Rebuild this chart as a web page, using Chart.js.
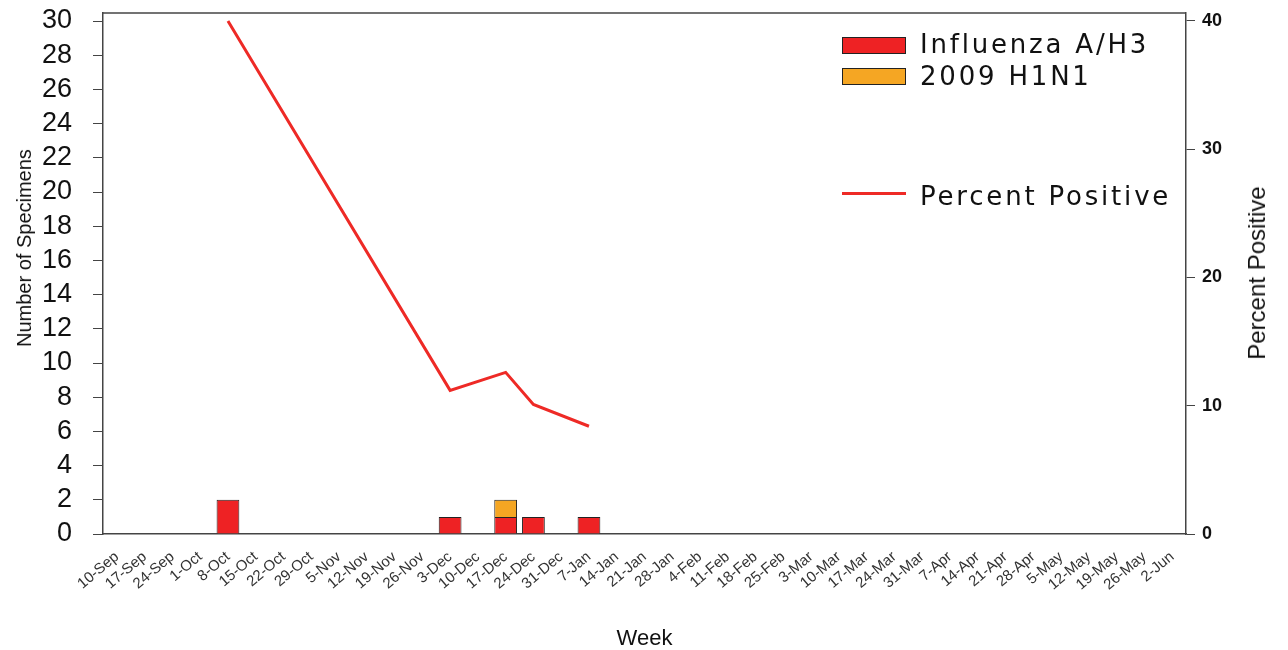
<!DOCTYPE html>
<html>
<head>
<meta charset="utf-8">
<script src="https://cdn.jsdelivr.net/npm/chart.js@4.4.1/dist/chart.umd.min.js"></script>
<style>
  html, body { margin: 0; padding: 0; background: #fff; }
  #wrap { position: relative; width: 1288px; height: 650px; overflow: hidden; }
  #c { position: absolute; left: 0; top: 0; }
  .lg-box { position: absolute; box-sizing: border-box; border: 1px solid #222; width: 64px; height: 17px; left: 842px; }
  .lg-line { position: absolute; left: 842px; width: 64px; height: 3px; }
  .lg-text { position: absolute; left: 920px; font-family: "DejaVu Sans", sans-serif; font-size: 26px; line-height: 26px; letter-spacing: 2.8px; color: #111; white-space: nowrap; }
  .vtitle { position: absolute; transform: translate(-50%, -50%) rotate(-90deg); font-family: "Liberation Sans", Arial, sans-serif; color: #111; white-space: nowrap; line-height: 1; }
  #ltitle { left: 24px; top: 248px; font-size: 20px; }
  #rtitle { left: 1257px; top: 273px; font-size: 24px; }
</style>
</head>
<body>
<div id="wrap">
  <canvas id="c" width="1288" height="650"></canvas>
  <div class="lg-box" id="box1" style="top:37px;"></div>
  <div class="lg-text" style="top:31px;">Influenza A/H3</div>
  <div class="lg-box" id="box2" style="top:68px;"></div>
  <div class="lg-text" style="top:63px;">2009 H1N1</div>
  <div class="lg-line" id="line1" style="top:192px;"></div>
  <div class="lg-text" style="top:183px;">Percent Positive</div>
  <div class="vtitle" id="ltitle">Number of Specimens</div>
  <div class="vtitle" id="rtitle">Percent Positive</div>
</div>
<script>
// ---- Data ----
const weeks = ['10-Sep','17-Sep','24-Sep','1-Oct','8-Oct','15-Oct','22-Oct','29-Oct','5-Nov','12-Nov','19-Nov','26-Nov',
  '3-Dec','10-Dec','17-Dec','24-Dec','31-Dec','7-Jan','14-Jan','21-Jan','28-Jan','4-Feb','11-Feb','18-Feb','25-Feb',
  '3-Mar','10-Mar','17-Mar','24-Mar','31-Mar','7-Apr','14-Apr','21-Apr','28-Apr','5-May','12-May','19-May','26-May','2-Jun'];
const h3Counts   = [0,0,0,0,2,0,0,0,0,0,0,0,1,0,1,1,0,1,0,0,0,0,0,0,0,0,0,0,0,0,0,0,0,0,0,0,0,0,0];
const h1n1Counts = [0,0,0,0,0,0,0,0,0,0,0,0,0,0,1,0,0,0,0,0,0,0,0,0,0,0,0,0,0,0,0,0,0,0,0,0,0,0,0];
const percentPositive = [null,null,null,null,40,null,null,null,null,null,null,null,11.2,null,12.6,10.1,null,8.4,
  null,null,null,null,null,null,null,null,null,null,null,null,null,null,null,null,null,null,null,null,null];
const countTicks = [0,2,4,6,8,10,12,14,16,18,20,22,24,26,28,30];
const percentTicks = [0,10,20,30,40];

const seriesNames = ['Influenza A/H3', '2009 H1N1', 'Percent Positive'];
const RED = '#EE2224', ORANGE = '#F5A623', LINE = '#EE2A26';

document.getElementById('box1').style.background = RED;
document.getElementById('box2').style.background = ORANGE;
document.getElementById('line1').style.background = LINE;

const AX = '#444';
const topBorder = {
  id: 'topBorder',
  afterDraw(chart) {
    const a = chart.chartArea, ctx = chart.ctx;
    ctx.save();
    ctx.strokeStyle = AX; ctx.lineWidth = 1.5;
    ctx.beginPath(); ctx.moveTo(a.left, a.top); ctx.lineTo(a.right, a.top); ctx.stroke();
    ctx.restore();
  }
};
function noPad(s) { s.paddingTop = 0; s.paddingBottom = 0; s.paddingLeft = 0; s.paddingRight = 0; }

new Chart(document.getElementById('c'), {
  data: {
    labels: weeks,
    datasets: [
      { type: 'bar', label: seriesNames[0], data: h3Counts, backgroundColor: RED, borderColor: '#222', borderWidth: 1,
        yAxisID: 'y', stack: 's', barPercentage: 0.82, categoryPercentage: 1, order: 2 },
      { type: 'bar', label: seriesNames[1], data: h1n1Counts, backgroundColor: ORANGE, borderColor: '#222', borderWidth: 1,
        yAxisID: 'y', stack: 's', barPercentage: 0.82, categoryPercentage: 1, order: 2 },
      { type: 'line', label: seriesNames[2], data: percentPositive, borderColor: LINE, borderWidth: 3, pointRadius: 0,
        spanGaps: true, tension: 0, yAxisID: 'y1', order: 1 }
    ]
  },
  options: {
    responsive: false,
    animation: false,
    devicePixelRatio: 1,
    layout: { padding: { top: 13, left: 0, right: 0, bottom: 0 } },
    plugins: { legend: { display: false }, tooltip: { enabled: false } },
    scales: {
      x: {
        stacked: true,
        grid: { display: false },
        border: { display: true, color: AX, width: 1.5 },
        ticks: { autoSkip: false, maxRotation: 40, minRotation: 40, padding: 6, color: '#333',
          font: { family: 'Liberation Sans, Arial, sans-serif', size: 15 } },
        title: { display: true, text: 'Week', color: '#111', padding: { top: 0, bottom: 0 },
          font: { family: 'Liberation Sans, Arial, sans-serif', size: 22, lineHeight: 1 } },
        afterFit(s) { s.height = 116; noPad(s); }
      },
      y: {
        position: 'left', stacked: true, min: 0, max: 30.47,
        afterBuildTicks(s) { s.ticks = countTicks.map(v => ({ value: v })); },
        grid: { drawOnChartArea: false, drawTicks: true, tickLength: 10, color: AX },
        border: { display: true, color: AX, width: 1.5 },
        ticks: { autoSkip: false, padding: 21, color: '#111', font: { family: 'Liberation Sans, Arial, sans-serif', size: 27 } },
        afterFit(s) { s.width = 103; noPad(s); }
      },
      y1: {
        position: 'right', min: 0, max: 40.62,
        afterBuildTicks(s) { s.ticks = percentTicks.map(v => ({ value: v })); },
        grid: { drawOnChartArea: false, drawTicks: true, tickLength: 9, color: AX },
        border: { display: true, color: AX, width: 1.5 },
        ticks: { autoSkip: false, padding: 7, color: '#111', font: { family: 'Liberation Sans, Arial, sans-serif', size: 18, weight: 'bold' } },
        afterFit(s) { s.width = 102; noPad(s); }
      }
    }
  },
  plugins: [topBorder]
});
</script>
</body>
</html>
